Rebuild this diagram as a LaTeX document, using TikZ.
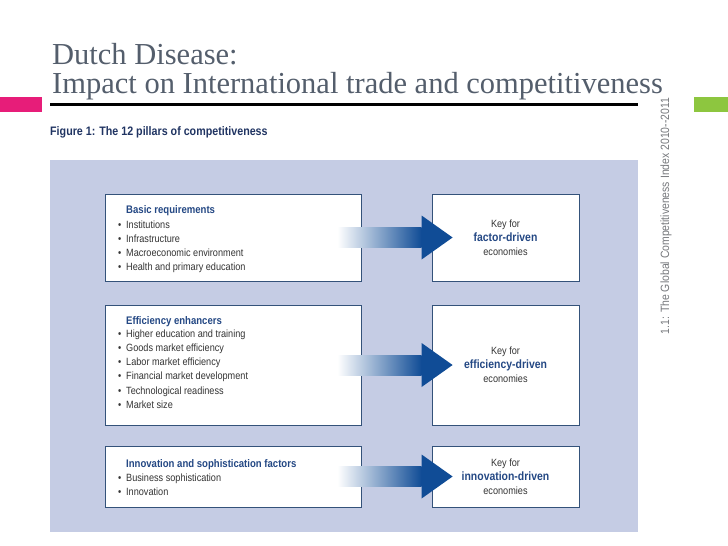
\documentclass[tikz,border=0pt]{standalone}
\usepackage{fontspec}
\setmainfont{Liberation Serif}
\newfontfamily\condfont[FakeStretch=0.87]{Liberation Sans}
\usepackage{xcolor}
\usetikzlibrary{positioning,calc}
\definecolor{titlegray}{RGB}{84,94,108}
\definecolor{barpink}{RGB}{231,29,121}
\definecolor{bargreen}{RGB}{141,198,63}
\definecolor{capblue}{RGB}{32,52,98}
\definecolor{panelblue}{RGB}{197,204,228}
\definecolor{boxline}{RGB}{52,82,122}
\definecolor{headblue}{RGB}{36,72,132}
\definecolor{arrowblue}{RGB}{16,76,150}
\definecolor{itemgray}{RGB}{52,52,52}
\definecolor{sidegray}{RGB}{118,120,124}

\begin{document}
\begin{tikzpicture}[x=1pt, y=-1pt, every node/.style={inner sep=0pt, font=\condfont\fontsize{10.5}{14.2}\selectfont}]
  \tikzset{
    pillarbox/.style={draw=boxline, fill=white, line width=0.8pt, minimum width=256, minimum height=#1},
    keybox/.style={draw=boxline, fill=white, line width=0.8pt, minimum width=147, minimum height=#1},
    itemlist/.style={anchor=north west, align=left, text=itemgray},
    keytext/.style={align=center, text=itemgray},
    shaft/.style={left color=white, right color=arrowblue},
  }
  \useasboundingbox (0,0) rectangle (728,546);
  % title and coloured bars
  \node[anchor=north west, align=left, text=titlegray, font=\fontsize{30.5}{29.5}\selectfont] (title) at (52,43)
    {Dutch Disease:\\Impact on International trade and competitiveness};
  \fill[barpink] (0,97) rectangle (42,112);
  \fill[bargreen] (694,97) rectangle (728,112);
  \draw[line width=3pt] (50,104) -- (638,104);
  \node[rotate=90, text=sidegray, font=\condfont\fontsize{12}{12}\selectfont] (source) at (666,216)
    {1.1: The Global Competitiveness Index 2010--2011};
  \node[anchor=base west, text=capblue, font=\condfont\bfseries\fontsize{12.3}{14}\selectfont] (caption) at (50,135)
    {Figure 1: The 12 pillars of competitiveness};
  % panel
  \fill[panelblue] (50,160) rectangle (638,532);
  % pillar boxes
  \node[pillarbox=87] (basic) at (233,237.5) {};
  \node[pillarbox=120] (efficiency) at (233,365) {};
  \node[pillarbox=61] (innovation) at (233,476.5) {};
  \node[keybox=87] (factor) at (505.5,237.5) {};
  \node[keybox=120] (effdriven) at (505.5,365) {};
  \node[keybox=61] (innodriven) at (505.5,476.5) {};
  \node[itemlist] (basic-list) at (126,205) {{\bfseries\color{headblue}\fontsize{11}{14.2}\selectfont Basic requirements}\\[1pt]
    \llap{\textbullet\hspace{5pt}}Institutions\\
    \llap{\textbullet\hspace{5pt}}Infrastructure\\
    \llap{\textbullet\hspace{5pt}}Macroeconomic environment\\
    \llap{\textbullet\hspace{5pt}}Health and primary education};
  \node[itemlist] (efficiency-list) at (126,316) {{\bfseries\color{headblue}\fontsize{11}{14.2}\selectfont Efficiency enhancers}\\[-1pt]
    \llap{\textbullet\hspace{5pt}}Higher education and training\\
    \llap{\textbullet\hspace{5pt}}Goods market efficiency\\
    \llap{\textbullet\hspace{5pt}}Labor market efficiency\\
    \llap{\textbullet\hspace{5pt}}Financial market development\\
    \llap{\textbullet\hspace{5pt}}Technological readiness\\
    \llap{\textbullet\hspace{5pt}}Market size};
  \node[itemlist] (innovation-list) at (126,459) {{\bfseries\color{headblue}\fontsize{11}{14.2}\selectfont Innovation and sophistication factors}\\
    \llap{\textbullet\hspace{5pt}}Business sophistication\\
    \llap{\textbullet\hspace{5pt}}Innovation};
  \node[keytext] (factor-text) at (factor) {Key for\\{\bfseries\color{headblue}\fontsize{12}{15}\selectfont factor-driven}\\economies};
  \node[keytext] (effdriven-text) at (effdriven) {Key for\\{\bfseries\color{headblue}\fontsize{12}{15}\selectfont efficiency-driven}\\economies};
  \node[keytext] (innodriven-text) at (innodriven) {Key for\\{\bfseries\color{headblue}\fontsize{12}{15}\selectfont innovation-driven}\\economies};
  % arrows
  \shade[shaft] ($(basic.east)+(-24,-10)$) rectangle ($(factor.west)+(-10,10)$);
  \fill[arrowblue] ($(factor.west)+(-10,-22)$) -- ($(factor.west)+(21,0)$) -- ($(factor.west)+(-10,22)$) -- cycle;
  \shade[shaft] ($(efficiency.east)+(-24,-10)$) rectangle ($(effdriven.west)+(-10,10)$);
  \fill[arrowblue] ($(effdriven.west)+(-10,-22)$) -- ($(effdriven.west)+(21,0)$) -- ($(effdriven.west)+(-10,22)$) -- cycle;
  \shade[shaft] ($(innovation.east)+(-24,-10)$) rectangle ($(innodriven.west)+(-10,10)$);
  \fill[arrowblue] ($(innodriven.west)+(-10,-22)$) -- ($(innodriven.west)+(21,0)$) -- ($(innodriven.west)+(-10,22)$) -- cycle;
\end{tikzpicture}
\end{document}
